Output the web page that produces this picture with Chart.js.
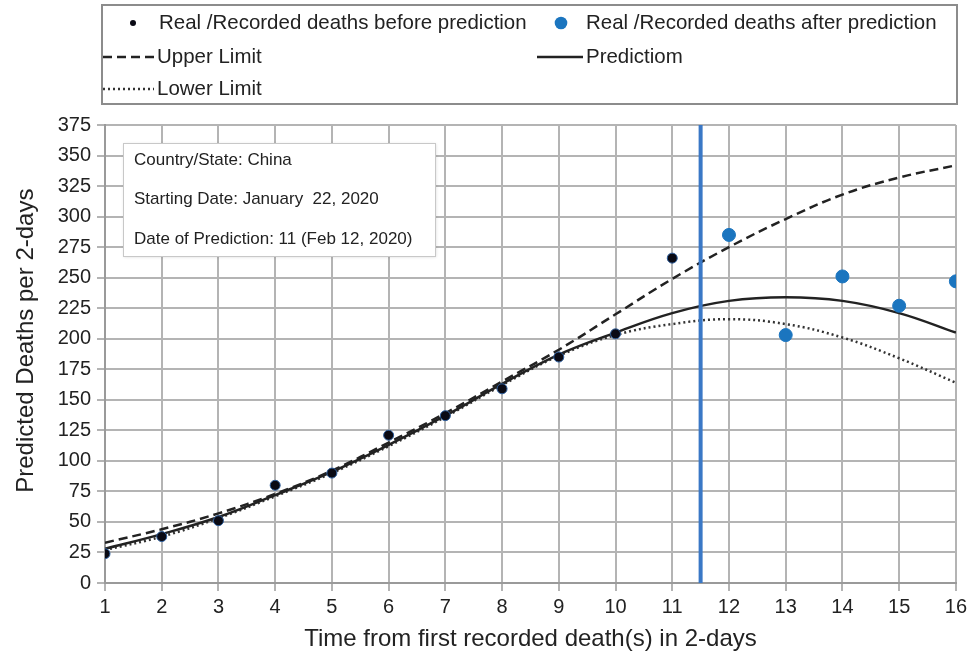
<!DOCTYPE html>
<html>
<head>
<meta charset="utf-8">
<script src="https://cdn.jsdelivr.net/npm/chart.js@4/dist/chart.umd.min.js"></script>
<style>
  html, body { margin: 0; padding: 0; background: #fff; }
  #wrap { width: 971px; height: 654px; position: relative; }
</style>
</head>
<body>
<div id="wrap"><canvas id="chart" width="971" height="654"></canvas></div>
<script>
// values
const periods = [1, 2, 3, 4, 5, 6, 7, 8, 9, 10, 11, 12, 13, 14, 15, 16];
const beforeX = [1, 2, 3, 4, 5, 6, 7, 8, 9, 10, 11];
const beforeDeaths = [24, 38, 51, 80, 90, 121, 137, 159, 185, 204, 266];
const afterX = [12, 13, 14, 15, 16];
const afterDeaths = [285, 203, 251, 227, 247];
const upperLimit = [33, 44, 57, 73, 92, 115, 139, 165, 191, 220, 249, 275, 298, 318, 332, 342];
const prediction = [28, 40, 54, 72, 91, 113, 137, 163, 187, 205, 221, 231, 234, 231, 221, 205];
const lowerLimit = [27, 38, 53, 71, 90, 112, 136, 162, 186, 203, 212, 216, 212, 201, 184, 164];
const predictionPoint = 11.5;
const yTicks = [0, 25, 50, 75, 100, 125, 150, 175, 200, 225, 250, 275, 300, 325, 350, 375];
const infoLines = [
    'Country/State: China',
    'Starting Date: January  22, 2020',
    'Date of Prediction: 11 (Feb 12, 2020)'
];

const FONT = '"Liberation Sans", Arial, sans-serif';
const BLUE = '#1b75bf';

function pts(xs, ys) {
    return xs.map((x, i) => ({ x: x, y: ys[i] }));
}

// legend drawn on top of the chart, two columns like the original
const legendPlugin = {
    id: 'boxLegend',
    afterDraw(chart) {
        const ctx = chart.ctx;
        const ds = chart.data.datasets;
        ctx.save();
        ctx.strokeStyle = '#8c8c8c';
        ctx.lineWidth = 2;
        ctx.strokeRect(102, 5, 855, 99);

        ctx.font = '21px ' + FONT;
        ctx.textBaseline = 'middle';
        const items = [
            { ds: ds[0], mx: 133, r: 3, tx: 159, y: 23 },
            { ds: ds[1], mx: 561, r: 6.3, tx: 586, y: 23 },
            { ds: ds[2], lx: 103, tx: 157, y: 57 },
            { ds: ds[3], lx: 537, tx: 586, y: 57 },
            { ds: ds[4], lx: 103, tx: 157, y: 89 }
        ];
        items.forEach(it => {
            if (it.mx) {
                ctx.beginPath();
                ctx.fillStyle = it.ds.backgroundColor;
                ctx.arc(it.mx, it.y, it.r, 0, Math.PI * 2);
                ctx.fill();
            } else {
                ctx.beginPath();
                ctx.strokeStyle = it.ds.borderColor;
                ctx.lineWidth = it.ds.borderWidth;
                ctx.setLineDash(it.ds.borderDash || []);
                ctx.moveTo(it.lx, it.y);
                ctx.lineTo(it.tx - 3, it.y);
                ctx.stroke();
                ctx.setLineDash([]);
            }
            ctx.fillStyle = '#222';
            ctx.save();
            ctx.translate(it.tx, it.y);
            ctx.scale(0.975, 1);
            ctx.fillText(it.ds.label, 0, 0);
            ctx.restore();
        });
        ctx.restore();
    }
};

// info box inside the plot
const infoPlugin = {
    id: 'infoBox',
    afterDatasetsDraw(chart) {
        const ctx = chart.ctx;
        ctx.save();
        ctx.shadowColor = 'rgba(0,0,0,0.15)';
        ctx.shadowBlur = 3;
        ctx.shadowOffsetX = 1;
        ctx.shadowOffsetY = 1;
        ctx.fillStyle = '#fff';
        ctx.fillRect(123, 143, 312, 113);
        ctx.shadowColor = 'transparent';
        ctx.strokeStyle = '#c8c8c8';
        ctx.lineWidth = 1;
        ctx.strokeRect(123.5, 143.5, 312, 113);
        ctx.fillStyle = '#222';
        ctx.font = '17px ' + FONT;
        ctx.textBaseline = 'middle';
        infoLines.forEach((t, i) => ctx.fillText(t, 134, 160 + i * 39.5));
        ctx.restore();
    }
};

new Chart(document.getElementById('chart'), {
    type: 'scatter',
    data: {
        datasets: [
            {
                label: 'Real /Recorded deaths before prediction',
                data: pts(beforeX, beforeDeaths),
                backgroundColor: '#0a0a14',
                borderColor: '#2e5f9e',
                borderWidth: 1,
                pointRadius: 5,
                order: 0
            },
            {
                label: 'Real /Recorded deaths after prediction',
                data: pts(afterX, afterDeaths),
                backgroundColor: BLUE,
                borderColor: BLUE,
                pointRadius: 6.5,
                order: 0
            },
            {
                label: 'Upper Limit',
                data: pts(periods, upperLimit),
                showLine: true,
                borderColor: '#222',
                borderWidth: 2.5,
                borderDash: [9, 5],
                pointRadius: 0,
                tension: 0.4,
                order: 2
            },
            {
                label: 'Predictiom',
                data: pts(periods, prediction),
                showLine: true,
                borderColor: '#222',
                borderWidth: 2.5,
                pointRadius: 0,
                tension: 0.4,
                order: 2
            },
            {
                label: 'Lower Limit',
                data: pts(periods, lowerLimit),
                showLine: true,
                borderColor: '#333',
                borderWidth: 2.5,
                borderDash: [2, 3],
                pointRadius: 0,
                tension: 0.4,
                order: 2
            },
            {
                label: 'prediction',
                data: [{ x: predictionPoint, y: 0 }, { x: predictionPoint, y: 375 }],
                showLine: true,
                borderColor: '#3a78c6',
                borderWidth: 4,
                pointRadius: 0,
                order: 1
            }
        ]
    },
    options: {
        responsive: false,
        animation: false,
        layout: { padding: { top: 125, right: 14, left: 12, bottom: 0 } },
        plugins: {
            legend: { display: false },
            tooltip: { enabled: false }
        },
        scales: {
            x: {
                type: 'linear',
                min: 1,
                max: 16,
                border: { color: '#9a9a9a', width: 2 },
                grid: { color: '#b4b4b4', lineWidth: 2, tickLength: 8 },
                ticks: {
                    stepSize: 1,
                    color: '#222',
                    padding: 4,
                    font: { family: FONT, size: 20 }
                },
                title: {
                    display: true,
                    text: 'Time from first recorded death(s) in 2-days',
                    color: '#222',
                    font: { family: FONT, size: 24 },
                    padding: { top: 2, bottom: 0 }
                },
                afterFit(s) { s.height = 71; }
            },
            y: {
                min: 0,
                max: 375,
                border: { color: '#9a9a9a', width: 2 },
                grid: { color: '#b4b4b4', lineWidth: 2, tickLength: 8 },
                afterBuildTicks(s) { s.ticks = yTicks.map(v => ({ value: v })); },
                ticks: {
                    color: '#222',
                    padding: 6,
                    font: { family: FONT, size: 20 }
                },
                title: {
                    display: true,
                    // leading spaces nudge the title up, as in the original
                    text: '    Predicted Deaths per 2-days',
                    color: '#222',
                    font: { family: FONT, size: 24 },
                    padding: { top: 0, bottom: 4 }
                },
                afterFit(s) { s.width = 93; }
            }
        }
    },
    plugins: [legendPlugin, infoPlugin]
});
</script>
</body>
</html>
